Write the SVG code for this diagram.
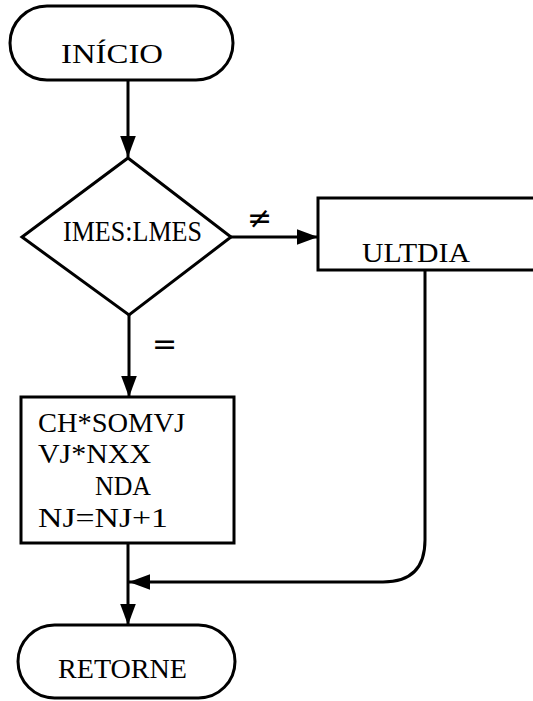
<svg xmlns="http://www.w3.org/2000/svg" width="533" height="701" viewBox="0 0 533 701">
<defs>
<style>
.s{fill:#fff;stroke:#000;stroke-width:3}
.c{fill:none;stroke:#000;stroke-width:3}
.m{font-family:"Liberation Serif","Times New Roman",serif;font-size:28px;fill:#000}
.r{font-family:"Liberation Serif","Times New Roman",serif;font-size:30px;fill:#000}
.o{font-family:"DejaVu Sans",sans-serif;font-size:30px;fill:#000}
</style>
<marker id="a" markerWidth="8" markerHeight="8" refX="7" refY="4" orient="auto" markerUnits="strokeWidth" viewBox="0 0 8 8">
<path d="M0,1.4 L7,4 L0,6.6 Z" fill="#000"/>
</marker>
</defs>
<rect width="533" height="701" fill="#fff"/>
<g id="connectors">
<line class="c" x1="128" y1="80" x2="128" y2="157" marker-end="url(#a)"/>
<line class="c" x1="231" y1="237" x2="318" y2="237" marker-end="url(#a)"/>
<line class="c" x1="129" y1="315" x2="129" y2="397" marker-end="url(#a)"/>
<line class="c" x1="128" y1="543" x2="128" y2="625" marker-end="url(#a)"/>
<path class="c" d="M425,270 V540 Q425,582 383,582 H129" marker-end="url(#a)"/>
<text x="247" y="228" class="o">≠</text>
<text x="152" y="354" class="o">=</text>
</g>
<g id="inicio">
<rect class="s" x="10" y="6" width="223" height="74" rx="37"/>
<text class="m" x="61" y="63" textLength="102" lengthAdjust="spacingAndGlyphs">INÍCIO</text>
</g>
<g id="decisao">
<polygon class="s" points="128,158 231,237 129,315 22,237"/>
<text class="r" x="63" y="241" textLength="139" lengthAdjust="spacingAndGlyphs">IMES:LMES</text>
</g>
<g id="ultdia">
<rect class="s" x="318" y="198" width="230" height="72"/>
<text class="m" x="362" y="262" textLength="108" lengthAdjust="spacingAndGlyphs">ULTDIA</text>
</g>
<g id="calculo">
<rect class="s" x="21" y="397" width="213" height="146"/>
<text class="m" x="38" y="432" textLength="147" lengthAdjust="spacingAndGlyphs">CH*SOMVJ</text>
<text class="m" x="38" y="463" textLength="113" lengthAdjust="spacingAndGlyphs">VJ*NXX</text>
<text class="m" x="95" y="495" textLength="56" lengthAdjust="spacingAndGlyphs">NDA</text>
<text class="m" x="38" y="527" textLength="130" lengthAdjust="spacingAndGlyphs">NJ=NJ+1</text>
</g>
<g id="retorne">
<rect class="s" x="18" y="625" width="217" height="73" rx="36.5"/>
<text class="m" x="58" y="678" textLength="129" lengthAdjust="spacingAndGlyphs">RETORNE</text>
</g>
</svg>
